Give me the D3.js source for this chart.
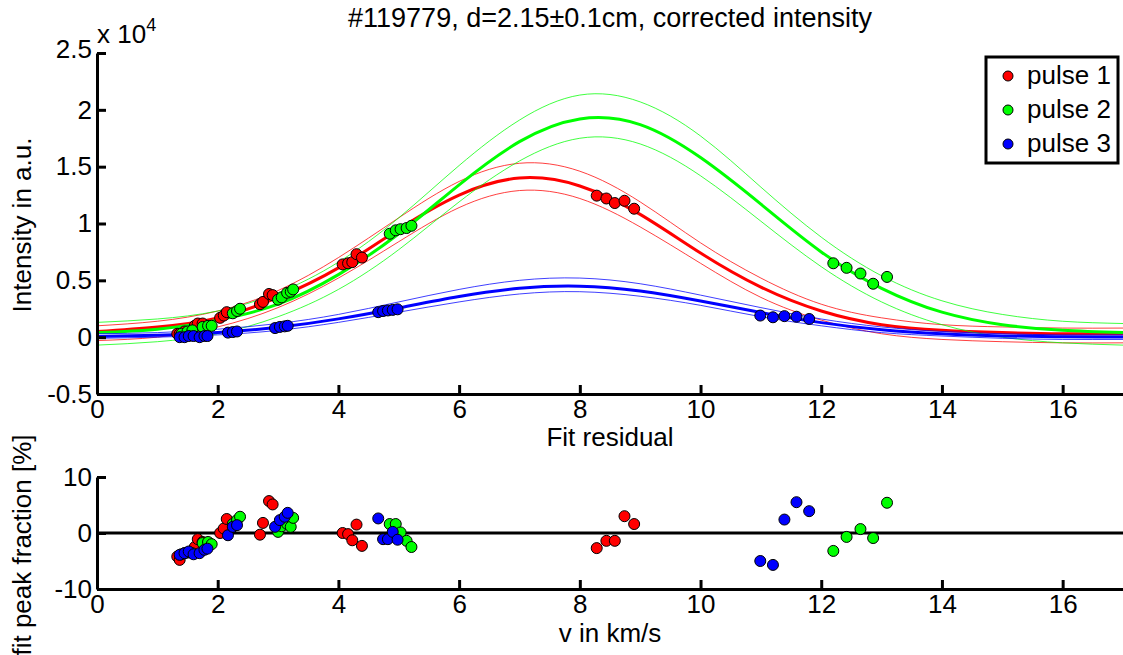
<!DOCTYPE html>
<html>
<head>
<meta charset="utf-8">
<script src="https://cdn.jsdelivr.net/npm/d3@7"></script>
<style>
  html, body { margin: 0; padding: 0; background: #fff; }
  svg { display: block; font-family: "Liberation Sans", Arial, Helvetica, sans-serif; }
  .axis path, .axis line { stroke: #000; stroke-width: 3; }
  .axis text { font-size: 26px; fill: #000; }
</style>
</head>
<body>
<div id="chart"></div>
<script>
// fit curves sampled on a 1 km/s grid (intensity in units of 1e4)
const vGrid = [0,1,2,3,4,5,6,7,8,9,10,11,12,13,14,15,16,17];

const redFit = [0.05,0.09,0.17,0.35,0.61,0.95,1.25,1.40,1.33,1.08,0.74,0.44,0.23,0.11,0.06,0.04,0.03,0.03];
const redUp  = [0.10,0.14,0.23,0.41,0.70,1.05,1.37,1.53,1.46,1.19,0.83,0.52,0.29,0.17,0.11,0.09,0.08,0.08];
const redLo  = [-0.03,0.00,0.09,0.26,0.52,0.84,1.14,1.29,1.22,0.97,0.65,0.35,0.15,0.03,-0.02,-0.04,-0.05,-0.05];

const greenFit = [0.04,0.07,0.15,0.29,0.55,0.91,1.34,1.72,1.92,1.87,1.58,1.17,0.75,0.43,0.22,0.11,0.06,0.04];
const greenUp  = [0.13,0.16,0.23,0.39,0.66,1.05,1.51,1.91,2.13,2.07,1.77,1.32,0.88,0.54,0.32,0.20,0.14,0.12];
const greenLo  = [-0.07,-0.04,0.03,0.18,0.42,0.77,1.19,1.55,1.75,1.70,1.42,1.02,0.62,0.31,0.11,0.00,-0.05,-0.07];

const blueFit = [0.006,0.017,0.041,0.087,0.161,0.257,0.357,0.430,0.449,0.406,0.318,0.217,0.128,0.065,0.029,0.011,0.004,0.001];
const blueUp  = [0.03,0.04,0.07,0.12,0.20,0.31,0.42,0.50,0.52,0.47,0.37,0.26,0.16,0.09,0.05,0.03,0.02,0.02];
const blueLo  = [-0.01,0.00,0.02,0.06,0.13,0.22,0.31,0.38,0.40,0.36,0.28,0.18,0.10,0.04,0.01,-0.01,-0.02,-0.02];

// measured points: velocity, intensity (1e4), fit residual (%)
const redV = [1.33,1.37,1.45,1.62,1.67,1.75,2.04,2.10,2.15,2.70,2.75,2.85,2.91,4.07,4.16,4.23,4.30,4.39,8.28,8.44,8.58,8.74,8.90];
const redI = [0.03,0.03,0.05,0.10,0.12,0.12,0.17,0.19,0.22,0.29,0.31,0.38,0.37,0.64,0.65,0.66,0.73,0.70,1.245,1.22,1.18,1.20,1.13];
const redR = [-4.2,-4.8,-3.6,-2.5,-1.1,-1.6,0.0,0.8,2.5,-0.3,1.8,5.7,5.1,0.0,-0.2,-1.3,1.5,-2.3,-2.7,-1.4,-1.4,3.0,1.6];

const greenV = [1.40,1.50,1.58,1.75,1.84,1.90,2.25,2.32,2.37,3.00,3.06,3.15,3.21,3.25,4.85,4.95,5.03,5.13,5.21,12.20,12.42,12.65,12.86,13.09];
const greenI = [0.03,0.05,0.06,0.09,0.10,0.10,0.21,0.23,0.25,0.33,0.35,0.39,0.40,0.42,0.91,0.94,0.95,0.96,0.98,0.65,0.61,0.56,0.47,0.53];
const greenR = [-3.8,-3.5,-3.6,-1.8,-1.6,-2.0,1.6,2.3,2.9,0.2,1.2,1.6,1.1,2.7,1.6,1.6,0.1,-1.4,-2.5,-3.2,-0.7,0.7,-0.9,5.4];

const blueV = [1.37,1.45,1.52,1.60,1.70,1.78,1.83,2.17,2.25,2.32,2.95,3.03,3.11,3.16,4.66,4.74,4.82,4.90,4.98,10.99,11.20,11.39,11.59,11.80];
const blueI = [0.00,0.00,0.01,0.01,0.00,0.01,0.01,0.04,0.045,0.05,0.08,0.09,0.095,0.10,0.22,0.23,0.235,0.24,0.245,0.19,0.175,0.185,0.18,0.16];
const blueR = [-3.9,-3.6,-3.3,-3.8,-3.6,-3.0,-2.8,-0.4,1.1,1.4,1.1,2.3,2.9,3.6,2.6,-1.1,-1.1,0.2,-1.2,-5.0,-5.7,2.4,5.5,3.9];

const seriesNames = ['pulse 1', 'pulse 2', 'pulse 3'];
const xTicks = [0,2,4,6,8,10,12,14,16];
const yTopTicks = [-0.5,0,0.5,1,1.5,2,2.5];
const yTopLabels = ['-0.5','0','0.5','1','1.5','2','2.5'];
const yBotTicks = [-10,0,10];
const yBotLabels = ['-10','0','10'];

const W = 1123, H = 655;
const colors = ['#ff0000', '#00ff00', '#0000ff'];

const svg = d3.select('#chart').append('svg')
  .attr('width', W).attr('height', H);

const x = d3.scaleLinear().domain([0, 17]).range([97, 1123]);
const yTop = d3.scaleLinear().domain([-0.5, 2.5]).range([394, 53]);
const yBot = d3.scaleLinear().domain([-10, 10]).range([589, 477]);

const series = [
  { fit: redFit, up: redUp, lo: redLo, v: redV, i: redI, r: redR },
  { fit: greenFit, up: greenUp, lo: greenLo, v: greenV, i: greenI, r: greenR },
  { fit: blueFit, up: blueUp, lo: blueLo, v: blueV, i: blueI, r: blueR }
];

const line = d3.line()
  .x((d, k) => x(vGrid[k]))
  .y(d => yTop(d))
  .curve(d3.curveNatural);

// fit curves with their bands
const curves = svg.append('g');
series.forEach((s, k) => {
  [s.up, s.lo].forEach(arr => {
    curves.append('path').datum(arr)
      .attr('d', line)
      .attr('fill', 'none')
      .attr('stroke', colors[k])
      .attr('stroke-opacity', 0.75)
      .attr('stroke-width', 1);
  });
  curves.append('path').datum(s.fit)
    .attr('d', line)
    .attr('fill', 'none')
    .attr('stroke', colors[k])
    .attr('stroke-width', 3);
});

// top panel points
series.forEach((s, k) => {
  svg.append('g').selectAll('circle')
    .data(s.v.map((v, j) => ({ v: v, val: s.i[j] })))
    .join('circle')
    .attr('cx', d => x(d.v))
    .attr('cy', d => yTop(d.val))
    .attr('r', 5.5)
    .attr('fill', colors[k])
    .attr('stroke', '#000')
    .attr('stroke-width', 1);
});

// top axes
svg.append('g').attr('class', 'axis')
  .attr('transform', `translate(0,${yTop(-0.5)})`)
  .call(d3.axisBottom(x).tickValues(xTicks).tickSizeInner(-9).tickSizeOuter(0).tickPadding(5))
  .call(g => g.selectAll('text').attr('dy', '0.72em'));

svg.append('g').attr('class', 'axis')
  .attr('transform', `translate(${x(0)},0)`)
  .call(d3.axisLeft(yTop).tickValues(yTopTicks).tickSizeInner(-9).tickSizeOuter(0).tickPadding(5)
    .tickFormat((d, k) => yTopLabels[k]))
  .call(g => g.selectAll('.tick').filter(d => d === 2.5).select('text').attr('y', -4));

// exponent label
const expo = svg.append('text')
  .attr('x', 97).attr('y', 43)
  .attr('font-size', 26);
expo.append('tspan').text('x 10');
expo.append('tspan').attr('font-size', 18).attr('dy', -12).text('4');

// bottom panel: zero line, points, axes
svg.append('line')
  .attr('x1', x(0)).attr('x2', x(17))
  .attr('y1', yBot(0)).attr('y2', yBot(0))
  .attr('stroke', '#000').attr('stroke-width', 3);

series.forEach((s, k) => {
  svg.append('g').selectAll('circle')
    .data(s.v.map((v, j) => ({ v: v, res: s.r[j] })))
    .join('circle')
    .attr('cx', d => x(d.v))
    .attr('cy', d => yBot(d.res))
    .attr('r', 5.5)
    .attr('fill', colors[k])
    .attr('stroke', '#000')
    .attr('stroke-width', 1);
});

svg.append('g').attr('class', 'axis')
  .attr('transform', `translate(0,${yBot(-10)})`)
  .call(d3.axisBottom(x).tickValues(xTicks).tickSizeInner(-9).tickSizeOuter(0).tickPadding(5))
  .call(g => g.selectAll('text').attr('dy', '0.72em'));

svg.append('g').attr('class', 'axis')
  .attr('transform', `translate(${x(0)},0)`)
  .call(d3.axisLeft(yBot).tickValues(yBotTicks).tickSizeInner(-9).tickSizeOuter(0).tickPadding(5)
    .tickFormat((d, k) => yBotLabels[k]));

// titles and labels
svg.append('text')
  .attr('x', 610).attr('y', 27)
  .attr('text-anchor', 'middle').attr('font-size', 27)
  .text('#119779, d=2.15±0.1cm, corrected intensity');

svg.append('text')
  .attr('x', 610).attr('y', 446)
  .attr('text-anchor', 'middle').attr('font-size', 26)
  .text('Fit residual');

svg.append('text')
  .attr('x', 610).attr('y', 642)
  .attr('text-anchor', 'middle').attr('font-size', 26)
  .text('v in km/s');

svg.append('text')
  .attr('transform', 'translate(31,225) rotate(-90)')
  .attr('text-anchor', 'middle').attr('font-size', 26)
  .text('Intensity in a.u.');

svg.append('text')
  .attr('transform', 'translate(31,545) rotate(-90)')
  .attr('text-anchor', 'middle').attr('font-size', 26)
  .text('fit peak fraction [%]');

// legend
const legend = svg.append('g');
legend.append('rect')
  .attr('x', 986).attr('y', 57)
  .attr('width', 132).attr('height', 106)
  .attr('fill', '#fff').attr('stroke', '#000').attr('stroke-width', 3);

seriesNames.forEach((name, k) => {
  const yy = 76 + k * 34;
  legend.append('circle')
    .attr('cx', 1008).attr('cy', yy).attr('r', 5)
    .attr('fill', colors[k]).attr('stroke', '#000').attr('stroke-width', 1);
  legend.append('text')
    .attr('x', 1027).attr('y', yy + 8)
    .attr('font-size', 26)
    .text(name);
});
</script>
</body>
</html>
